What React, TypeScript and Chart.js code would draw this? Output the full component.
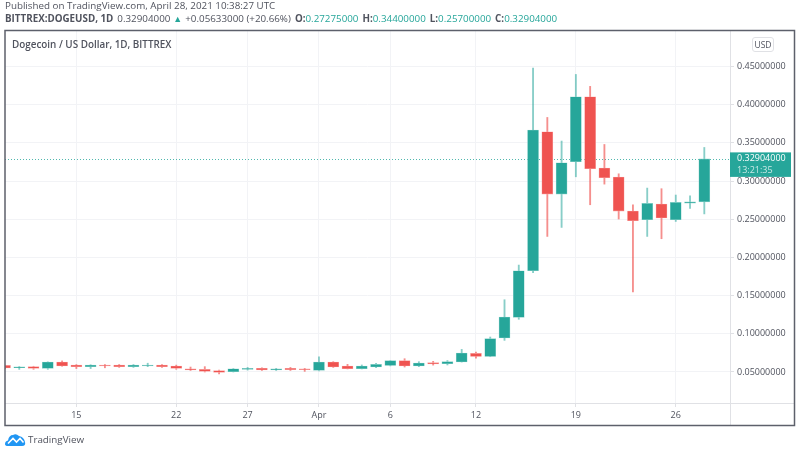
import { useEffect, useRef } from "react";
import { Chart, registerables } from "chart.js";

Chart.register(...registerables);

// Daily candles, 10 Mar to 28 Apr 2021
const opens = [
  0.0586, 0.0555, 0.057, 0.0548, 0.0631, 0.0592, 0.057, 0.0592, 0.0592, 0.057,
  0.0578, 0.0592, 0.0578, 0.0543, 0.0534, 0.0517, 0.0504, 0.0534, 0.0548, 0.0526,
  0.0548, 0.0543, 0.0521, 0.0631, 0.0578, 0.0543, 0.0565, 0.0586, 0.0648, 0.0578,
  0.0622, 0.0608, 0.0631, 0.0743, 0.0704, 0.0945, 0.1215, 0.1826, 0.3645, 0.283,
  0.3253, 0.4104, 0.317, 0.3053, 0.2607, 0.2493, 0.2699, 0.2493, 0.271, 0.27275,
];
const closes = [
  0.0552, 0.0568, 0.0548, 0.0631, 0.0578, 0.057, 0.0592, 0.0578, 0.057, 0.0592,
  0.0592, 0.057, 0.0548, 0.0526, 0.0508, 0.0495, 0.0543, 0.0548, 0.0526, 0.0543,
  0.053, 0.053, 0.0631, 0.0565, 0.0543, 0.0578, 0.06, 0.0648, 0.0578, 0.0618,
  0.0605, 0.0635, 0.0749, 0.0704, 0.0936, 0.122, 0.1826, 0.3668, 0.283, 0.324,
  0.4104, 0.3161, 0.3043, 0.2607, 0.248, 0.2707, 0.2516, 0.272, 0.2727, 0.32904,
];
const highs = [
  0.059, 0.0572, 0.0575, 0.0633, 0.0645, 0.0597, 0.0595, 0.0598, 0.0598, 0.0598,
  0.0615, 0.0598, 0.059, 0.0565, 0.057, 0.0525, 0.0545, 0.056, 0.0555, 0.0548,
  0.056, 0.0548, 0.07, 0.0635, 0.06, 0.0592, 0.0613, 0.065, 0.0674, 0.0635,
  0.064, 0.065, 0.0796, 0.076, 0.0958, 0.1446, 0.19, 0.448, 0.3833, 0.3524,
  0.4396, 0.424, 0.3479, 0.3095, 0.269, 0.2908, 0.29, 0.2817, 0.2808, 0.344,
];
const lows = [
  0.0545, 0.0534, 0.0535, 0.0535, 0.0575, 0.0545, 0.0545, 0.0555, 0.056, 0.056,
  0.057, 0.056, 0.0535, 0.052, 0.05, 0.0475, 0.05, 0.0525, 0.052, 0.052,
  0.052, 0.0508, 0.0515, 0.056, 0.054, 0.054, 0.0556, 0.058, 0.0565, 0.057,
  0.059, 0.0592, 0.063, 0.0682, 0.07, 0.0914, 0.119, 0.18, 0.2275, 0.2393,
  0.3056, 0.269, 0.296, 0.2503, 0.1547, 0.2275, 0.2245, 0.2471, 0.2641, 0.257,
];

const priceTicks = [0.05, 0.1, 0.15, 0.2, 0.25, 0.3, 0.35, 0.4, 0.45];
const dayTickIndexes = [5, 12, 17, 22, 27, 33, 40, 47];
const dayTickLabels = ["15", "22", "27", "Apr", "6", "12", "19", "26"];
const lastPrice = 0.32904;
const countdown = "13:21:35";

const UP = "#26a69a";
const DOWN = "#ef5350";
const UP_SOFT = "rgba(38, 166, 154, 0.55)";
const DOWN_SOFT = "rgba(239, 83, 80, 0.65)";
const TEXT = "#50535e";
const GRID = "#f2f3f6";
const AXIS = "#e0e1e5";
const FONT = "'Open Sans', sans-serif";

const indexes = opens.map((_, i) => i);
const isUp = (i: number) => closes[i] >= opens[i];

// Frame, axis lines, last price line and price tag
const overlay = {
  id: "overlay",
  beforeDatasetsDraw(chart: Chart) {
    const { ctx, chartArea, scales } = chart;
    const y = scales.y.getPixelForValue(lastPrice);
    ctx.save();
    ctx.strokeStyle = "rgba(38, 166, 154, 0.8)";
    ctx.lineWidth = 1;
    ctx.setLineDash([1, 2]);
    ctx.beginPath();
    ctx.moveTo(chartArea.left, Math.round(y) + 0.5);
    ctx.lineTo(chartArea.right, Math.round(y) + 0.5);
    ctx.stroke();
    ctx.restore();
  },
  afterDraw(chart: Chart) {
    const { ctx, chartArea, scales } = chart;
    const y = scales.y.getPixelForValue(lastPrice);
    ctx.save();
    ctx.strokeStyle = AXIS;
    ctx.lineWidth = 1;
    ctx.beginPath();
    ctx.moveTo(chartArea.right + 0.5, 30);
    ctx.lineTo(chartArea.right + 0.5, 425);
    ctx.moveTo(5, chartArea.bottom + 0.5);
    ctx.lineTo(795, chartArea.bottom + 0.5);
    ctx.stroke();

    ctx.strokeStyle = "#5d606b";
    ctx.lineWidth = 1.5;
    ctx.strokeRect(5, 30.5, 789.5, 395);

    ctx.fillStyle = UP;
    ctx.fillRect(chartArea.right, y - 6.5, 61, 24.5);
    ctx.fillStyle = "#ffffff";
    ctx.font = `9px ${FONT}`;
    ctx.textAlign = "left";
    ctx.textBaseline = "middle";
    ctx.fillText(lastPrice.toFixed(8), chartArea.right + 7, y);
    ctx.fillStyle = "rgba(255, 255, 255, 0.75)";
    ctx.fillText(countdown, chartArea.right + 7, y + 11.5);
    ctx.restore();
  },
};

function Quote({ label, value }: { label: string; value: string }) {
  return (
    <span style={{ marginLeft: 4 }}>
      <b style={{ color: TEXT }}>{label}</b>
      <span style={{ color: UP }}>{value}</span>
    </span>
  );
}

export default function App() {
  const canvasRef = useRef<HTMLCanvasElement>(null);

  useEffect(() => {
    if (!canvasRef.current) return;
    const chart = new Chart(canvasRef.current, {
      type: "bar",
      data: {
        labels: indexes,
        datasets: [
          {
            label: "Wick",
            data: indexes.map((i) => ({ x: i, y: [lows[i], highs[i]] })) as any,
            backgroundColor: indexes.map((i) => (isUp(i) ? UP_SOFT : DOWN_SOFT)),
            barThickness: 1.2,
            grouped: false,
            order: 2,
          },
          {
            label: "Body",
            data: indexes.map((i) => ({ x: i, y: [opens[i], closes[i]] })) as any,
            backgroundColor: indexes.map((i) => (isUp(i) ? UP : DOWN)),
            borderColor: indexes.map((i) => (isUp(i) ? "#8ed2cb" : "#f9a5a3")),
            borderWidth: 0.6,
            borderSkipped: false,
            barThickness: 11,
            grouped: false,
            order: 1,
          },
        ],
      },
      options: {
        animation: false,
        responsive: false,
        layout: { padding: { left: 5, top: 30, right: 5, bottom: 25 } },
        plugins: { legend: { display: false }, tooltip: { enabled: false } },
        scales: {
          x: {
            type: "linear",
            offset: false,
            min: 0,
            max: 50.8,
            afterBuildTicks: (axis) => {
              axis.ticks = dayTickIndexes.map((value) => ({ value }));
            },
            afterFit: (axis) => {
              axis.height = 22;
            },
            grid: { offset: false, color: GRID, tickColor: AXIS, tickLength: 4 },
            border: { display: false },
            ticks: {
              color: TEXT,
              font: { family: FONT, size: 9 },
              maxRotation: 0,
              autoSkip: false,
              padding: 3,
              callback: (value) => dayTickLabels[dayTickIndexes.indexOf(Number(value))],
            },
          },
          y: {
            position: "right",
            min: 0.0094,
            max: 0.4978,
            afterBuildTicks: (axis) => {
              axis.ticks = priceTicks.map((value) => ({ value }));
            },
            afterFit: (axis) => {
              axis.width = 65;
            },
            grid: { color: GRID, tickColor: AXIS, tickLength: 4 },
            border: { display: false },
            ticks: {
              color: TEXT,
              font: { family: FONT, size: 9 },
              padding: 3,
              callback: (value) => Number(value).toFixed(8),
            },
          },
        },
      },
      plugins: [overlay],
    });
    return () => chart.destroy();
  }, []);

  return (
    <div
      style={{
        position: "absolute",
        left: 0,
        top: 0,
        width: 800,
        height: 450,
        overflow: "hidden",
        background: "#ffffff",
        fontFamily: FONT,
        fontSize: 9.8,
        color: TEXT,
      }}
    >
      <canvas ref={canvasRef} width={800} height={450} style={{ position: "absolute", left: 0, top: 0 }} />
      <div style={{ position: "absolute", left: 5, top: -1, whiteSpace: "nowrap" }}>
        Published on TradingView.com, April 28, 2021 10:38:27 UTC
      </div>
      <div style={{ position: "absolute", left: 5, top: 12, whiteSpace: "nowrap" }}>
        <b>BITTREX:DOGEUSD, 1D</b>
        <span style={{ marginLeft: 4 }}>0.32904000</span>
        <span style={{ color: UP, marginLeft: 3, fontSize: 9 }}>▲</span>
        <span style={{ marginLeft: 3 }}>+0.05633000 (+20.66%)</span>
        <Quote label="O:" value="0.27275000" />
        <Quote label="H:" value="0.34400000" />
        <Quote label="L:" value="0.25700000" />
        <Quote label="C:" value="0.32904000" />
      </div>
      <div style={{ position: "absolute", left: 12, top: 37, fontSize: 9.9, fontWeight: 600, whiteSpace: "nowrap" }}>
        Dogecoin / US Dollar, 1D, BITTREX
      </div>
      <div
        style={{
          position: "absolute",
          left: 752,
          top: 37,
          width: 20,
          height: 13,
          lineHeight: "13px",
          textAlign: "center",
          fontSize: 8.5,
          border: "1px solid #e0e1e5",
          borderRadius: 3,
        }}
      >
        USD
      </div>
      <svg style={{ position: "absolute", left: 5, top: 433 }} width={21} height={14} viewBox="0 0 21 14">
        <path d="M0 11 Q0 8 3 7.5 Q4 2 8 2 Q11 0 14 3 Q19 4 20 9 Q21 13 17 13 L3 13 Q0 13 0 11 Z" fill="#2196f3" />
        <path d="M3 10.5 L8 5.5 L11.5 9 L15 5.5 L18.5 9.5" fill="none" stroke="#ffffff" strokeWidth={1.6} />
      </svg>
      <div style={{ position: "absolute", left: 28, top: 433, whiteSpace: "nowrap" }}>TradingView</div>
    </div>
  );
}
